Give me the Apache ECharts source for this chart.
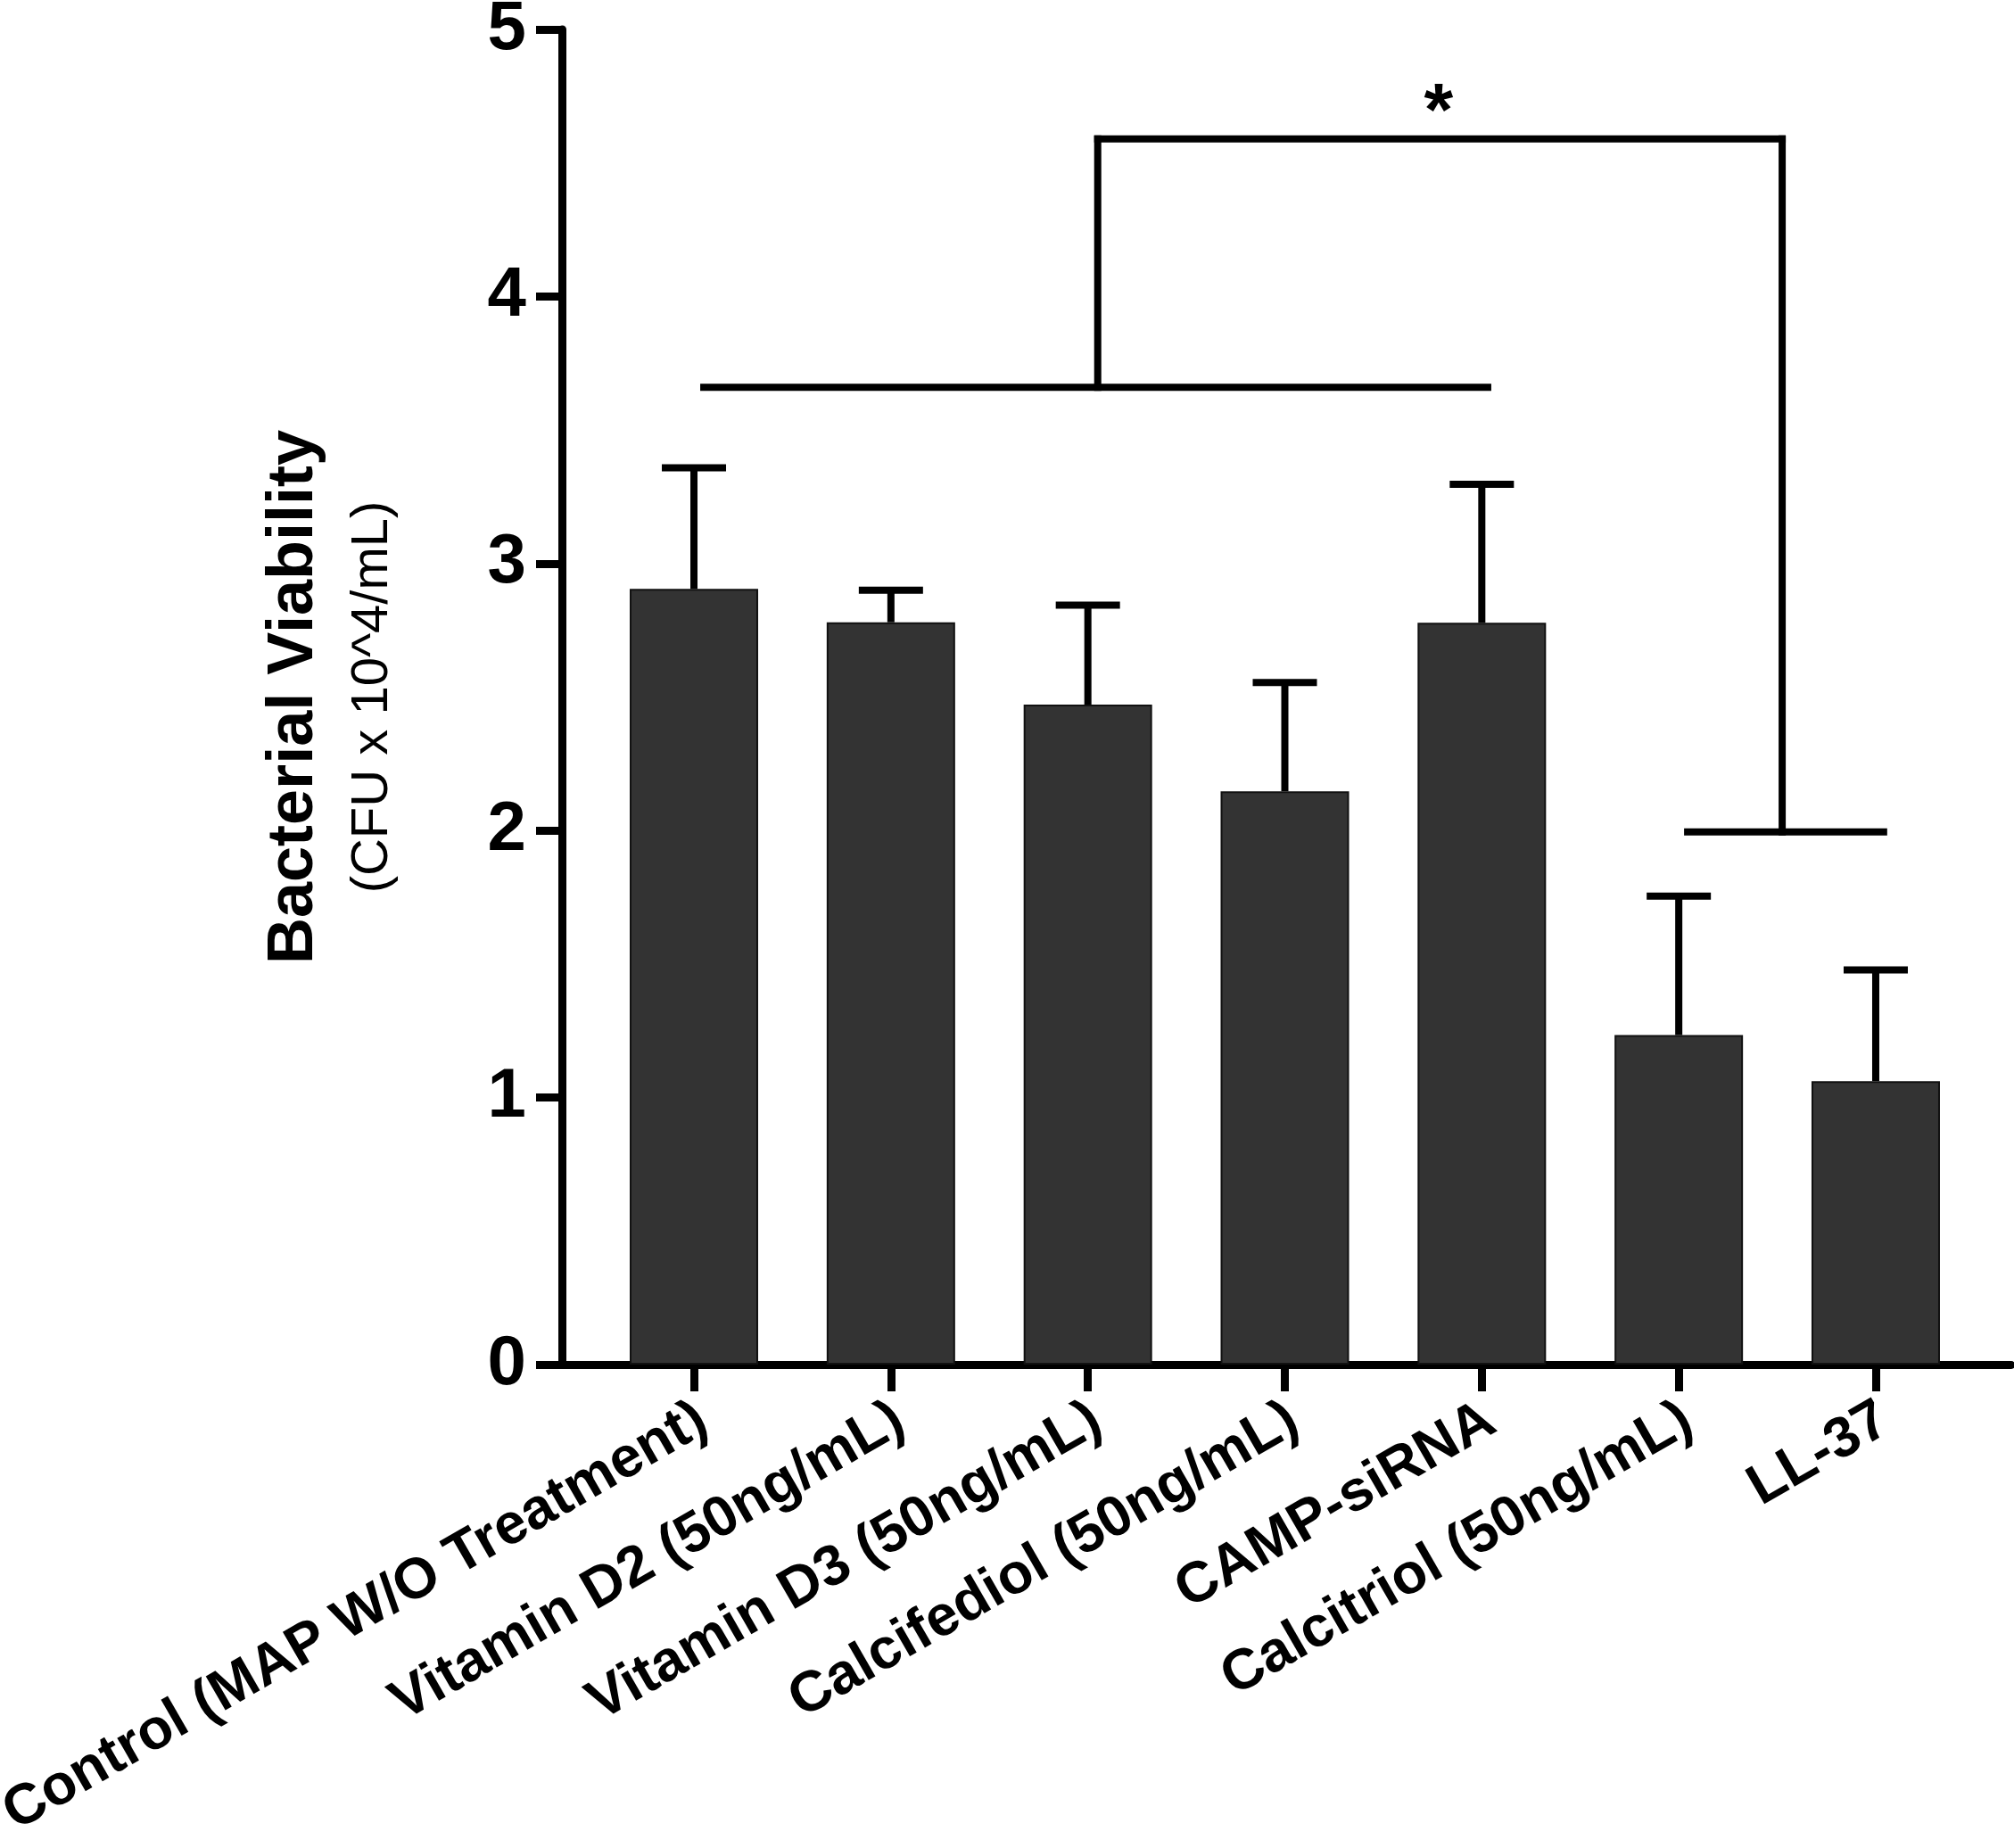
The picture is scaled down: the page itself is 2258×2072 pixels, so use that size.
<!DOCTYPE html>
<html lang="en">
<head>
  <meta charset="UTF-8">
  <title>Bacterial Viability</title>
  <style>
    html, body { margin: 0; padding: 0; background: #fff; }
    #chart { width: 2258px; height: 2072px; }
  </style>
</head>
<body>
<div id="chart"></div>
<script src="https://cdn.jsdelivr.net/npm/echarts@6/dist/echarts.min.js"></script>
<script>
  // data
  const groups = [
    'Control (MAP W/O Treatment)',
    'Vitamin D2 (50ng/mL)',
    'Vitamin D3 (50ng/mL)',
    'Calcifediol (50ng/mL)',
    'CAMP-siRNA',
    'Calcitriol (50ng/mL)',
    'LL-37'
  ];
  const means = [2.905, 2.78, 2.472, 2.147, 2.778, 1.234, 1.061];
  const errors = [0.453, 0.12, 0.372, 0.407, 0.519, 0.52, 0.417];
  const yTicks = [0, 1, 2, 3, 4, 5];

  // significance bracket, in category index / value units: [x1, y1, x2, y2]
  const bracketSegs = [
    [0.05, 3.66, 4.03, 3.66],
    [2.05, 3.66, 2.05, 4.59],
    [2.05, 4.59, 5.525, 4.59],
    [5.525, 4.59, 5.525, 1.995],
    [5.045, 1.995, 6.04, 1.995]
  ];
  const starPos = [3.78, 4.68];

  const FONT = '"Liberation Sans", Arial, Helvetica, sans-serif';
  const chart = echarts.init(document.getElementById('chart'));

  // pixel x of a fractional category index
  function catX(api, idx, y) {
    const x0 = api.coord([0, y])[0];
    const band = api.size([1, 0])[0];
    return x0 + idx * band;
  }

  const option = {
    backgroundColor: '#fff',
    animation: false,
    grid: [
      { left: 630, right: 3, top: 33, bottom: 542, outerBoundsMode: 'none', containLabel: false },
      { left: 667.6, right: 44.6, top: 33, bottom: 542, outerBoundsMode: 'none', containLabel: false }
    ],
    xAxis: [
      {
        type: 'value', gridIndex: 0, min: 0, max: 1,
        axisLine: { show: true, lineStyle: { color: '#000', width: 9 } },
        axisTick: { show: false }, axisLabel: { show: false }, splitLine: { show: false }
      },
      {
        type: 'category', gridIndex: 1, data: groups,
        axisLine: { show: false },
        axisTick: { show: true, alignWithLabel: true, length: 30, lineStyle: { color: '#000', width: 9 } },
        axisLabel: {
          interval: 0, rotate: 30, margin: 64, padding: [0, -12, 0, 0],
          color: '#000', fontFamily: FONT, fontWeight: 'bold', fontSize: 64
        },
        splitLine: { show: false }
      }
    ],
    yAxis: [
      {
        type: 'value', gridIndex: 0, min: yTicks[0], max: yTicks[yTicks.length - 1], interval: 1,
        name: '{a|Bacterial Viability}\n{b|(CFU x 10^4/mL)}',
        nameLocation: 'middle', nameRotate: 90, nameGap: 180,
        nameTextStyle: {
          color: '#000',
          rich: {
            a: { fontFamily: FONT, fontWeight: 'bold', fontSize: 72, lineHeight: 112, color: '#000' },
            b: { fontFamily: FONT, fontSize: 58, lineHeight: 64, color: '#000' }
          }
        },
        axisLine: { show: true, lineStyle: { color: '#000', width: 9 } },
        axisTick: { show: true, length: 29, lineStyle: { color: '#000', width: 9 } },
        axisLabel: { margin: 40, color: '#000', fontFamily: FONT, fontWeight: 'bold', fontSize: 78 },
        splitLine: { show: false }
      },
      {
        type: 'value', gridIndex: 1, min: 0, max: 5, interval: 1, show: false
      }
    ],
    series: [
      {
        type: 'bar', xAxisIndex: 1, yAxisIndex: 1,
        data: means, barWidth: 144,
        itemStyle: { color: '#333333', borderColor: '#111', borderWidth: 2 },
        z: 2
      },
      {
        type: 'custom', xAxisIndex: 1, yAxisIndex: 1, z: 3,
        data: means.map((m, i) => [i, m, m + errors[i]]),
        renderItem: function (params, api) {
          const base = api.coord([api.value(0), api.value(1)]);
          const top = api.coord([api.value(0), api.value(2)]);
          const style = { stroke: '#000', lineWidth: 8 };
          return {
            type: 'group',
            children: [
              { type: 'line', shape: { x1: base[0], y1: base[1], x2: top[0], y2: top[1] }, style: style },
              { type: 'line', shape: { x1: top[0] - 36, y1: top[1], x2: top[0] + 36, y2: top[1] }, style: style }
            ]
          };
        }
      },
      {
        type: 'custom', xAxisIndex: 1, yAxisIndex: 1, z: 3,
        data: bracketSegs.map(() => [0, 0]),
        renderItem: function (params, api) {
          const s = bracketSegs[params.dataIndex];
          const y1 = api.coord([0, s[1]])[1];
          const y2 = api.coord([0, s[3]])[1];
          const isLast = params.dataIndex === bracketSegs.length - 1;
          const children = [{
            type: 'line',
            shape: { x1: catX(api, s[0], s[1]), y1: y1, x2: catX(api, s[2], s[3]), y2: y2 },
            style: { stroke: '#000', lineWidth: 8, lineCap: 'square' }
          }];
          if (isLast) {
            children.push({
              type: 'text',
              x: catX(api, starPos[0], starPos[1]),
              y: api.coord([0, starPos[1]])[1],
              style: {
                text: '*', fill: '#000', fontFamily: FONT, fontWeight: 'bold', fontSize: 84,
                align: 'center', verticalAlign: 'middle'
              }
            });
          }
          return { type: 'group', children: children };
        }
      }
    ]
  };

  chart.setOption(option);
</script>
</body>
</html>
